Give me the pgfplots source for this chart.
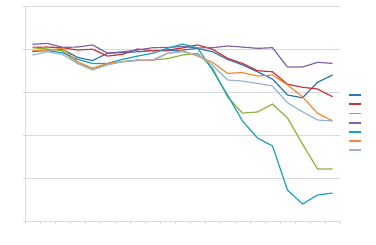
\documentclass[border=0pt]{standalone}
\usepackage{pgfplots}
\pgfplotsset{compat=1.18}
\definecolor{cblue}{RGB}{46,117,182}
\definecolor{cred}{RGB}{200,52,60}
\definecolor{cgreen}{RGB}{140,180,60}
\definecolor{cpurple}{RGB}{128,100,162}
\definecolor{cteal}{RGB}{30,160,185}
\definecolor{corange}{RGB}{240,140,50}
\definecolor{clblue}{RGB}{150,180,215}
\definecolor{cgrid}{RGB}{217,217,217}
\begin{document}
\begin{tikzpicture}
\useasboundingbox (0,0) rectangle (376bp,245bp);
\begin{axis}[
  at={(25bp,24bp)}, anchor=south west,
  scale only axis, width=315bp, height=215bp,
  xmin=-0.5, xmax=20.5, ymin=0, ymax=100,
  axis x line=bottom, axis y line=left,
  axis line style={cgrid, -},
  xtick={-0.5,0.5,...,20.5}, xticklabels={},
  ytick={0,20,40,60,80,100}, yticklabels={},
  tick style={cgrid, line width=0.6bp},
  tick align=outside, major tick length=2.5bp,
  ymajorgrids, grid style={cgrid, line width=0.8bp},
  every axis plot/.append style={line width=1.2bp, no markers},
  legend image code/.code={\draw[#1, line width=1.8bp] (0bp,0bp) -- (12bp,0bp);},
  legend style={draw=none, fill=none, inner sep=0pt, outer sep=0pt,
    at={(axis description cs:1.025,0.607)}, anchor=north west,
    font=\tiny, row sep=0pt,
    nodes={inner sep=0pt, minimum height=9.2bp}},
  legend cell align=left,
]
\addplot[cblue] coordinates {(0,78.7)(1,79.5)(2,79.9)(3,76.1)(4,74.6)(5,78.0)(6,78.3)(7,78.7)(8,79.2)(9,79.2)(10,79.5)(11,80.3)(12,78.7)(13,75.2)(14,72.6)(15,69.4)(16,66.0)(17,58.6)(18,57.3)(19,64.5)(20,67.9)};
\addlegendentry{\phantom{x}}
\addplot[cred] coordinates {(0,80.8)(1,80.9)(2,80.6)(3,79.5)(4,79.9)(5,76.7)(6,77.5)(7,80.0)(8,79.2)(9,79.5)(10,80.5)(11,81.9)(12,79.9)(13,75.7)(14,73.3)(15,69.9)(16,69.4)(17,63.6)(18,62.2)(19,61.4)(20,57.8)};
\addlegendentry{\phantom{x}}
\addplot[cgreen] coordinates {(0,80.6)(1,80.0)(2,79.2)(3,73.3)(4,71.0)(5,72.9)(6,74.1)(7,74.6)(8,74.9)(9,75.5)(10,77.2)(11,78.0)(12,71.2)(13,57.7)(14,50.2)(15,50.7)(16,54.4)(17,47.9)(18,35.8)(19,24.2)(20,24.2)};
\addlegendentry{\phantom{x}}
\addplot[cpurple] coordinates {(0,82.2)(1,82.6)(2,80.8)(3,80.9)(4,81.9)(5,78.1)(6,78.7)(7,79.5)(8,80.6)(9,80.7)(10,81.2)(11,80.5)(12,80.6)(13,81.4)(14,80.9)(15,80.3)(16,80.6)(17,71.6)(18,71.6)(19,73.8)(20,73.3)};
\addlegendentry{\phantom{x}}
\addplot[cteal] coordinates {(0,79.1)(1,79.2)(2,78.3)(3,75.2)(4,73.3)(5,73.3)(6,75.2)(7,76.7)(8,78.0)(9,80.3)(10,82.3)(11,80.5)(12,70.2)(13,58.6)(14,46.5)(15,38.6)(16,34.9)(17,14.4)(18,7.9)(19,12.1)(20,13.0)};
\addlegendentry{\phantom{x}}
\addplot[corange] coordinates {(0,79.2)(1,79.5)(2,80.3)(3,74.1)(4,71.0)(5,73.3)(6,74.1)(7,74.9)(8,74.6)(9,78.0)(10,79.2)(11,76.7)(12,73.8)(13,68.7)(14,69.0)(15,67.4)(16,67.9)(17,63.3)(18,57.8)(19,50.1)(20,46.6)};
\addlegendentry{\phantom{x}}
\addplot[clblue] coordinates {(0,77.2)(1,78.7)(2,77.5)(3,73.3)(4,70.2)(5,72.6)(6,74.1)(7,74.9)(8,74.9)(9,78.0)(10,78.7)(11,77.2)(12,72.6)(13,65.6)(14,65.1)(15,64.0)(16,62.8)(17,55.0)(18,50.8)(19,47.0)(20,46.5)};
\addlegendentry{\phantom{x}}
\end{axis}
\end{tikzpicture}
\end{document}
